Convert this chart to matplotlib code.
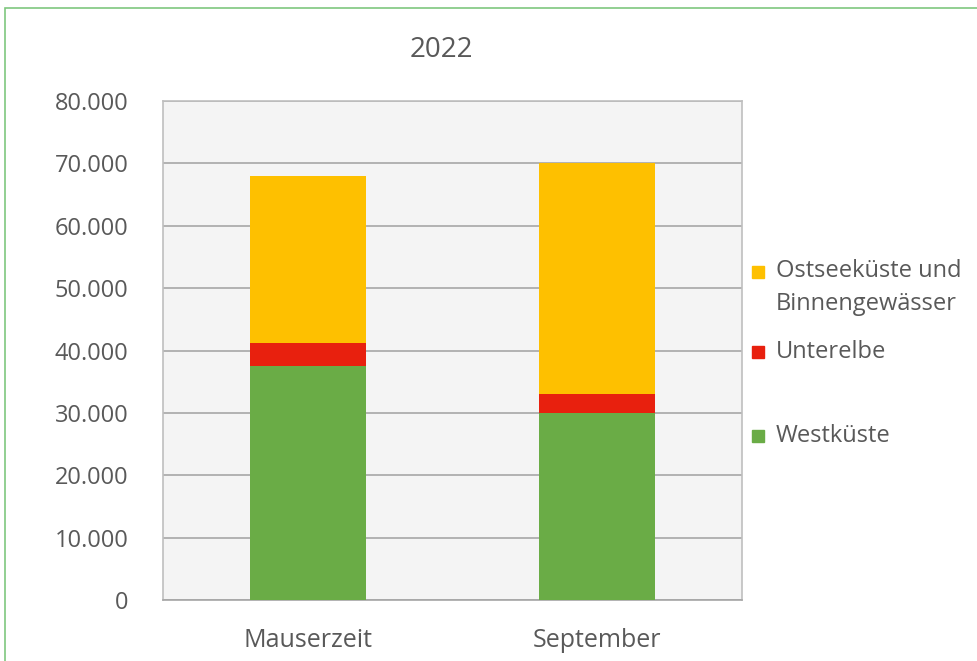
import numpy as np
import matplotlib.pyplot as plt
from matplotlib.patches import Rectangle

plt.rcParams['font.family'] = ['Open Sans', 'DejaVu Sans']

# counts per region and period
categories = ["Mauserzeit", "September"]
westkueste = [37500, 29900]
unterelbe = [3700, 3100]
ostsee = [26800, 37000]
series_names = ["Westküste", "Unterelbe", "Ostseeküste und\nBinnengewässer"]
colors = ["#6aac46", "#e8200e", "#fec000"]
yticks = [0, 10000, 20000, 30000, 40000, 50000, 60000, 70000, 80000]
ytick_labels = ["0", "10.000", "20.000", "30.000", "40.000", "50.000", "60.000", "70.000", "80.000"]

text_col = "#595959"

fig = plt.figure(figsize=(9.78, 6.61), dpi=100)
fig.patch.set_facecolor("white")
ax = fig.add_axes([163 / 978, 61 / 661, 579 / 978, 499 / 661])
ax.set_facecolor("#f4f4f4")

x = np.arange(len(categories))
bottom = np.zeros(len(categories))
for vals, col in zip([westkueste, unterelbe, ostsee], colors):
    ax.bar(x, vals, width=0.4, bottom=bottom, color=col, zorder=3)
    bottom += np.array(vals)

ax.set_xlim(-0.5, 1.5)
ax.set_ylim(0, 80000)
ax.set_yticks(yticks)
ax.set_yticklabels(ytick_labels, fontsize=17, color=text_col)
ax.set_xticks(x)
ax.set_xticklabels(categories, fontsize=18, color=text_col)
ax.tick_params(length=0)
ax.tick_params(axis="y", pad=25)
ax.tick_params(axis="x", pad=20)
ax.grid(axis="y", color="#a6a6a6", linewidth=1.2, zorder=0)
for s in ax.spines.values():
    s.set_color("#bfbfbf")
    s.set_linewidth(1.2)
ax.spines["bottom"].set_color("#a6a6a6")

fig.text(441 / 978, 1 - 50 / 661, "2022", fontsize=20, color=text_col,
         ha="center", va="center")

# legend, drawn by hand: (colour, label, marker y, text y) in pixels from top
leg_items = [(colors[2], series_names[2], 272, 287.5),
             (colors[1], series_names[1], 352, 352),
             (colors[0], series_names[0], 436, 436)]
for col, name, ymark, ytext in leg_items:
    fig.patches.append(Rectangle((752 / 978, 1 - (ymark + 6) / 661), 12 / 978, 12 / 661,
                                 transform=fig.transFigure, color=col))
    fig.text(776 / 978, 1 - ytext / 661, name, fontsize=17, color=text_col,
             ha="left", va="center", linespacing=1.5)

# outer frame
fig.patches.append(Rectangle((5 / 978, -0.01), 1.02, 1 - 8 / 661 + 0.01,
                             transform=fig.transFigure, fill=False,
                             edgecolor="#7fc77f", linewidth=1.2))

fig.savefig("out.png", dpi=100)
